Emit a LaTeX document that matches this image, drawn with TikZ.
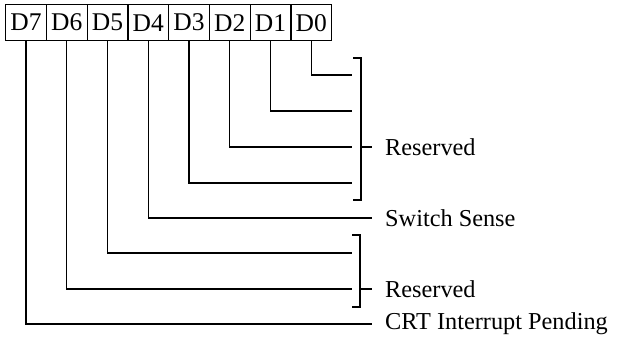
\documentclass[tikz,border=0pt]{standalone}
\usepackage{fontspec}
\setmainfont{Liberation Serif}
\begin{document}
\begin{tikzpicture}[x=1pt,y=-1pt,
  bitbox/.style={draw,line width=1.3pt,minimum width=40.75pt,minimum height=36pt,inner sep=0pt,font=\fontsize{25.5}{28}\selectfont,anchor=north west},
  conn/.style={line width=1.3pt},
  lbl/.style={anchor=west,inner sep=0pt,font=\fontsize{24.3}{28}\selectfont}]
\useasboundingbox (0,0) rectangle (620,339);
\foreach \i/\n in {0/7,1/6,2/5,3/4,4/3,5/2,6/1,7/0}{
  \node[bitbox] (b\n) at ({5+40.75*\i},4) {D\n};
}
% end coordinates
\coordinate (e0) at (352,75);
\coordinate (e1) at (352,111);
\coordinate (e2) at (352,147);
\coordinate (e3) at (352,183);
\coordinate (e4) at (372,218);
\coordinate (e5) at (352,253);
\coordinate (e6) at (352,289);
\coordinate (e7) at (372,324);
\foreach \n in {0,...,7}{
  \draw[conn] (b\n.south) |- (e\n);
}
% brackets
\draw[conn] (353,58) -- (361,58) -- (361,200) -- (353,200);
\draw[conn] (361,147) -- (372,147);
\draw[conn] (352,235) -- (360,235) -- (360,307) -- (352,307);
\draw[conn] (360,289) -- (372,289);
% labels
\node[lbl] (r1) at (385,147) {Reserved};
\node[lbl] (ss) at (385,218) {Switch Sense};
\node[lbl] (r2) at (385,289) {Reserved};
\node[lbl] (crt) at (385,324) {CRT Interrupt Pending};
\end{tikzpicture}
\end{document}
